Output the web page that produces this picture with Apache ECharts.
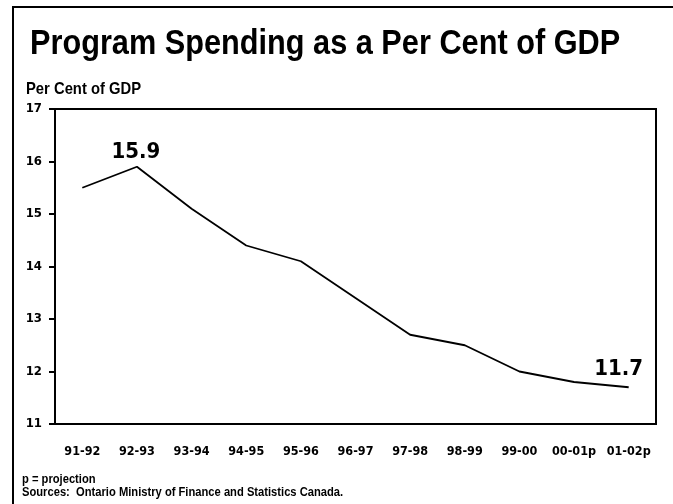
<!DOCTYPE html>
<html><head><meta charset="utf-8">
<script src="https://cdn.jsdelivr.net/npm/echarts@6/dist/echarts.min.js"></script>
<style>html,body{margin:0;padding:0;background:#fff}#c{width:673px;height:504px}</style>
</head><body><div id="c"></div>
<script>
var categories = ['91-92','92-93','93-94','94-95','95-96','96-97','97-98','98-99','99-00','00-01p','01-02p'];
var values = [15.5, 15.9, 15.1, 14.4, 14.1, 13.4, 12.7, 12.5, 12.0, 11.8, 11.7];
var labelIdx = [1, 10];
var yTicks = [11, 12, 13, 14, 15, 16, 17];

var F = '"DejaVu Sans Condensed",sans-serif';
var FL = '"Liberation Sans",Arial,sans-serif';
// place text by its baseline (approx. for Liberation Sans with top alignment)
function txt(s, x, baseline, size, k){
  return {type:'text', x:x, y:baseline - 0.68*size, scaleX:k,
    style:{text:s, fontFamily:FL, fontWeight:'bold', fontSize:size, fill:'#000', verticalAlign:'top'}};
}
var seriesData = values.map(function(v,i){
  var o = {value:v};
  if (labelIdx.indexOf(i) >= 0) {
    o.label = {show:true, position:'top', distance:(i===10?7:3), offset:(i===10?[-10,0]:[-1,0])};
  }
  return o;
});
var chart = echarts.init(document.getElementById('c'), null, {renderer:'canvas'});
chart.setOption({
  animation:false,
  backgroundColor:'#fff',
  graphic:[
    {type:'polyline', shape:{points:[[13,520],[13,7],[680,7]]}, style:{stroke:'#000', lineWidth:2, fill:null}},
    txt('Program Spending as a Per Cent of GDP', 30, 51, 35, 0.877),
    txt('Per Cent of GDP', 26, 92, 17, 0.87),
    txt('p = projection', 22, 482, 13, 0.86),
    txt('Sources:  Ontario Ministry of Finance and Statistics Canada.', 22, 495, 13, 0.86)
  ],
  grid:{left:55, right:17, top:109, bottom:80, show:true, borderColor:'#000', borderWidth:2},
  xAxis:{type:'category', data:categories, boundaryGap:true,
    axisLine:{show:false}, axisTick:{show:false}, splitLine:{show:false},
    axisLabel:{margin:21, color:'#000', fontFamily:F, fontWeight:'bold', fontSize:12.5, interval:0}},
  yAxis:{type:'value', min:yTicks[0], max:yTicks[yTicks.length-1], interval:1,
    axisLine:{show:false}, axisTick:{show:true, length:6, lineStyle:{color:'#000', width:2}},
    splitLine:{show:false},
    axisLabel:{margin:13, color:'#000', fontFamily:F, fontWeight:'bold', fontSize:13}},
  series:[{type:'line', data:seriesData,
    symbol:'circle', symbolSize:0, showSymbol:true,
    lineStyle:{color:'#000', width:1.8},
    label:{show:false, fontFamily:F, fontWeight:'bold', fontSize:22, color:'#000',
      formatter:function(p){return p.value.toFixed(1);}}}]
});
</script></body></html>
